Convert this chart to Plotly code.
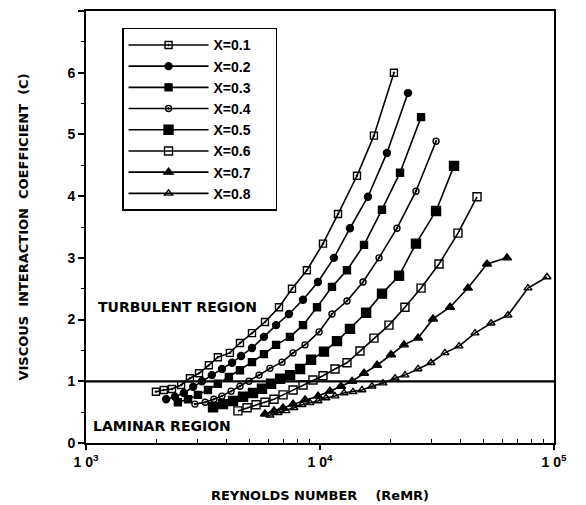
import plotly.graph_objects as go

# ---- data ----
labels = ["X=0.1", "X=0.2", "X=0.3", "X=0.4", "X=0.5", "X=0.6", "X=0.7", "X=0.8"]

re_01 = [1990, 2150, 2330, 2550, 2780, 3040, 3350, 3660, 4120, 4550, 5120, 5820, 6680, 7590, 8790, 10300, 11940, 14390, 17000, 20700]
c_01 = [0.83, 0.86, 0.875, 0.94, 1.05, 1.13, 1.26, 1.39, 1.46, 1.62, 1.78, 1.96, 2.20, 2.50, 2.80, 3.23, 3.71, 4.33, 4.98, 6.00]

re_02 = [2200, 2400, 2620, 2870, 3130, 3450, 3810, 4210, 4600, 5120, 5760, 6490, 7370, 8460, 9800, 11470, 13430, 16030, 19320, 23770]
c_02 = [0.71, 0.75, 0.81, 0.91, 1.00, 1.10, 1.20, 1.30, 1.41, 1.54, 1.72, 1.91, 2.09, 2.32, 2.61, 3.00, 3.48, 3.99, 4.70, 5.67]

re_03 = [2470, 2730, 3010, 3320, 3660, 4080, 4550, 5120, 5760, 6490, 7440, 8460, 9710, 11250, 13040, 15420, 18400, 21980, 27030]
c_03 = [0.66, 0.71, 0.78, 0.86, 0.96, 1.07, 1.18, 1.31, 1.44, 1.59, 1.72, 1.91, 2.20, 2.53, 2.80, 3.21, 3.78, 4.38, 5.28]

re_04 = [2920, 3230, 3520, 3810, 4170, 4550, 4970, 5490, 6110, 6880, 7670, 8630, 9910, 11250, 13040, 15270, 17870, 21330, 25710, 31330]
c_04 = [0.63, 0.66, 0.71, 0.76, 0.84, 0.92, 1.00, 1.10, 1.21, 1.31, 1.46, 1.59, 1.80, 2.09, 2.30, 2.61, 3.00, 3.48, 4.08, 4.89]

re_05 = [3490, 3850, 4250, 4690, 5170, 5650, 6180, 6750, 7450, 8220, 9160, 10400, 11820, 13430, 15740, 18410, 21770, 25710, 31330, 37390]
c_05 = [0.58, 0.63, 0.68, 0.75, 0.81, 0.88, 0.96, 1.04, 1.10, 1.20, 1.35, 1.48, 1.65, 1.85, 2.11, 2.42, 2.71, 3.23, 3.76, 4.49]

re_06 = [4460, 4880, 5330, 5820, 6360, 6950, 7670, 8460, 9330, 10300, 11590, 13040, 14820, 17000, 19710, 23070, 27030, 32260, 38880, 46880]
c_06 = [0.52, 0.57, 0.62, 0.66, 0.71, 0.78, 0.86, 0.94, 1.02, 1.09, 1.20, 1.30, 1.49, 1.70, 1.91, 2.20, 2.51, 2.90, 3.40, 3.99]

re_07 = [5820, 6360, 6950, 7670, 8630, 9810, 11030, 12300, 13710, 15420, 17530, 20110, 22850, 26240, 30390, 35950, 42860, 51730, 62980]
c_07 = [0.47, 0.52, 0.57, 0.63, 0.70, 0.76, 0.84, 0.92, 1.00, 1.13, 1.26, 1.43, 1.59, 1.70, 2.01, 2.20, 2.51, 2.90, 3.00]

re_08 = [6110, 6620, 7160, 7740, 8380, 9060, 9810, 10610, 11590, 12670, 13840, 15110, 16680, 18580, 20930, 23070, 26240, 29810, 34200, 39270, 45950, 53810, 63570, 77400, 93330]
c_08 = [0.45, 0.49, 0.52, 0.57, 0.62, 0.65, 0.68, 0.73, 0.76, 0.81, 0.83, 0.86, 0.92, 0.97, 1.05, 1.10, 1.20, 1.30, 1.46, 1.57, 1.78, 1.94, 2.07, 2.51, 2.69]

transition_c = 1.0
x_tick_vals = [1e3, 1e4, 1e5]
x_tick_text = ["1 0<sup>3</sup>", "1 0<sup>4</sup>", "1 0<sup>5</sup>"]
y_tick_vals = [0, 1, 2, 3, 4, 5, 6, 7]

series_re = [re_01, re_02, re_03, re_04, re_05, re_06, re_07, re_08]
series_c = [c_01, c_02, c_03, c_04, c_05, c_06, c_07, c_08]
symbols = ["square-open-dot", "circle", "square", "circle-open-dot",
           "square", "square-open", "triangle-up", "triangle-up-open"]
sizes = [7, 7, 7, 6, 9, 8, 8, 7]

FONT = "DejaVu Sans, Liberation Sans, Arial, sans-serif"
ARIAL = "Liberation Sans, Arial, Helvetica, sans-serif"
NB = "\u00a0"

fig = go.Figure()
for name, xs, ys, sym, sz in zip(labels, series_re, series_c, symbols, sizes):
    fig.add_trace(go.Scatter(
        x=xs, y=ys, name=name + NB * 5, mode="lines+markers",
        line=dict(color="black", width=1.6),
        marker=dict(symbol=sym, size=sz, color="black",
                    line=dict(color="black", width=1.4)),
    ))

fig.add_hline(y=transition_c, line=dict(color="black", width=2.2))

minor_x = [m * 10 ** d for d in (3, 4) for m in range(2, 10)]

# the page body adds an 8px offset, so the figure is sized to compensate
fig.update_layout(
    width=578, height=497,
    margin=dict(l=78, r=32, t=3, b=62),
    paper_bgcolor="white", plot_bgcolor="white",
    font=dict(family=FONT, size=13, color="black", weight="bold"),
    showlegend=True,
    legend=dict(
        x=0.077, y=0.961, xanchor="left", yanchor="top",
        bgcolor="white", bordercolor="black", borderwidth=1.5,
        font=dict(family=ARIAL, size=14, color="black", weight="bold"),
        itemwidth=80, tracegroupgap=0,
    ),
    xaxis=dict(
        type="log", range=[3, 5], automargin=False,
        tickvals=x_tick_vals, ticktext=x_tick_text,
        ticks="outside", ticklen=5, tickwidth=1.5, tickcolor="black",
        showline=True, linecolor="black", linewidth=1.8, mirror=True,
        showgrid=False, zeroline=False,
        tickfont=dict(family=ARIAL, size=14, color="black", weight="bold"),
        minor=dict(tickvals=minor_x, ticks="inside", ticklen=4,
                   tickwidth=1.2, tickcolor="black", showgrid=False),
        title=dict(text="REYNOLDS NUMBER" + NB * 4 + "(ReMR)",
                   font=dict(family=FONT, size=13, color="black", weight="bold"),
                   standoff=22),
    ),
    yaxis=dict(
        range=[0, 7], tickvals=y_tick_vals, automargin=False,
        ticks="outside", ticklen=6, tickwidth=1.5, tickcolor="black",
        showline=True, linecolor="black", linewidth=1.8, mirror=True,
        showgrid=False, zeroline=False,
        tickfont=dict(family=ARIAL, size=14, color="black", weight="bold"),
        minor=dict(dtick=0.5, ticks="outside", ticklen=3,
                   tickwidth=1.2, tickcolor="black", showgrid=False),
        title=dict(text="VISCOUS" + NB * 2 + "INTERACTION" + NB * 2 + "COEFFICIENT" + NB * 2 + "(C)",
                   font=dict(family=FONT, size=13, color="black", weight="bold"),
                   standoff=36),
    ),
    annotations=[
        dict(text="TURBULENT REGION", xref="paper", yref="y", x=0.022, y=2.2,
             xanchor="left", yanchor="middle", showarrow=False,
             font=dict(family=FONT, size=14, color="black", weight="bold")),
        dict(text="LAMINAR REGION", xref="paper", yref="y", x=0.01, y=0.27,
             xanchor="left", yanchor="middle", showarrow=False,
             font=dict(family=FONT, size=14, color="black", weight="bold")),
    ],
)

fig.write_html("out.html")
